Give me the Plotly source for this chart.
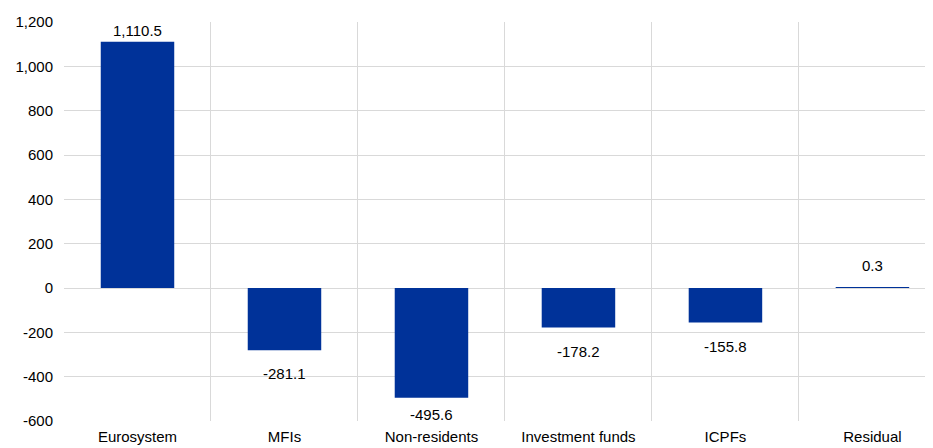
import plotly.graph_objects as go

categories = ["Eurosystem", "MFIs", "Non-residents", "Investment funds", "ICPFs", "Residual"]
values = [1110.5, -281.1, -495.6, -178.2, -155.8, 0.3]
label_text = ["1,110.5", "-281.1", "-495.6", "-178.2", "-155.8", "0.3"]
y_tickvals = [-600, -400, -200, 0, 200, 400, 600, 800, 1000, 1200]
y_ticktext = ["-600", "-400", "-200", "0", "200", "400", "600", "800", "1,000", "1,200"]

# label offsets (px) relative to bar end
label_shift = [1, -13, -6, -13, -13, 12]

fig = go.Figure()
fig.add_trace(go.Bar(
    x=categories, y=values, width=0.5,
    marker=dict(color="#003299", line=dict(width=0)),
    hoverinfo="x+y",
))

FS = 15
for c, v, t, s in zip(categories, values, label_text, label_shift):
    fig.add_annotation(
        x=c, y=v, text=t, showarrow=False,
        yanchor="bottom" if s > 0 else "top", yshift=s,
        font=dict(family="Liberation Sans, Arial", size=FS, color="#000000"),
    )

grid = "#d9d9d9"
fig.update_layout(
    width=925, height=440,
    margin=dict(l=56, r=0, t=14, b=27),
    plot_bgcolor="white", paper_bgcolor="white",
    showlegend=False,
    font=dict(family="Liberation Sans, Arial", size=FS, color="#000000"),
    xaxis=dict(
        type="category", tickson="boundaries", showgrid=True, gridcolor=grid, gridwidth=1,
        range=[-0.5, 5.412], ticks="", showline=False, zeroline=False,
        tickfont=dict(size=FS), ticklabelstandoff=5, automargin=False,
    ),
    yaxis=dict(
        range=[-600, 1200], tickvals=y_tickvals, ticktext=y_ticktext,
        showgrid=True, gridcolor=grid, gridwidth=1, zeroline=True, zerolinecolor=grid,
        zerolinewidth=1, showline=False, ticks="", tickfont=dict(size=FS),
        ticklabelstandoff=10, automargin=False,
    ),
)

fig.write_html("out.html")
